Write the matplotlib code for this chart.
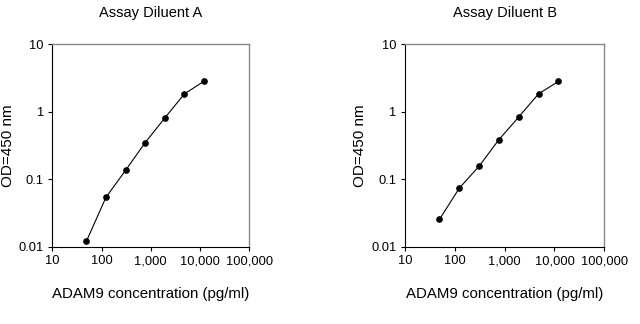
import matplotlib
matplotlib.use("Agg")
import matplotlib.pyplot as plt
from matplotlib.ticker import FixedLocator, FuncFormatter, NullLocator

plt.rcParams['font.family'] = ['Liberation Sans', 'DejaVu Sans']

conc = [49.2, 122.9, 307.2, 768, 1920, 4800, 12000]
od_a = [0.0121, 0.0543, 0.136, 0.35, 0.81, 1.84, 2.83]
od_b = [0.0256, 0.0743, 0.157, 0.388, 0.84, 1.85, 2.82]
titles = ["Assay Diluent A", "Assay Diluent B"]
x_ticks = [10, 100, 1000, 10000, 100000]
y_ticks = [0.01, 0.1, 1, 10]

fig = plt.figure(figsize=(6.4, 3.24), dpi=100)
ax_a = fig.add_axes([0.0817, 0.2377, 0.3078, 0.6256])
ax_b = fig.add_axes([0.6328, 0.2377, 0.3114, 0.6256])

def fmt_x(v, pos):
    return f"{v:,.0f}"

def fmt_y(v, pos):
    return f"{v:g}"

for ax, od, title in zip([ax_a, ax_b], [od_a, od_b], titles):
    ax.plot(conc, od, color="black", lw=0.8, marker="o", ms=3.8)
    ax.set_xscale("log")
    ax.set_yscale("log")
    ax.set_xlim(10, 100000)
    ax.set_ylim(0.01, 10)
    ax.xaxis.set_major_locator(FixedLocator(x_ticks))
    ax.yaxis.set_major_locator(FixedLocator(y_ticks))
    ax.xaxis.set_minor_locator(NullLocator())
    ax.yaxis.set_minor_locator(NullLocator())
    ax.xaxis.set_major_formatter(FuncFormatter(fmt_x))
    ax.yaxis.set_major_formatter(FuncFormatter(fmt_y))
    ax.tick_params(labelsize=9.3, length=3, width=0.8, pad=3)
    for s in ["top", "right"]:
        ax.spines[s].set_color("#888888")
        ax.spines[s].set_linewidth(1.0)
    for s in ["left", "bottom"]:
        ax.spines[s].set_color("black")
        ax.spines[s].set_linewidth(0.8)
    ax.set_xlabel("ADAM9 concentration (pg/ml)", fontsize=10.8)
    ax.xaxis.set_label_coords(0.5, -0.195)
    ax.set_ylabel("OD=450 nm", fontsize=11)
    ax.yaxis.set_label_coords(-0.19, 0.5)
    ax.set_title(title, fontsize=10.5, pad=20)

plt.savefig("out.png", dpi=100)
